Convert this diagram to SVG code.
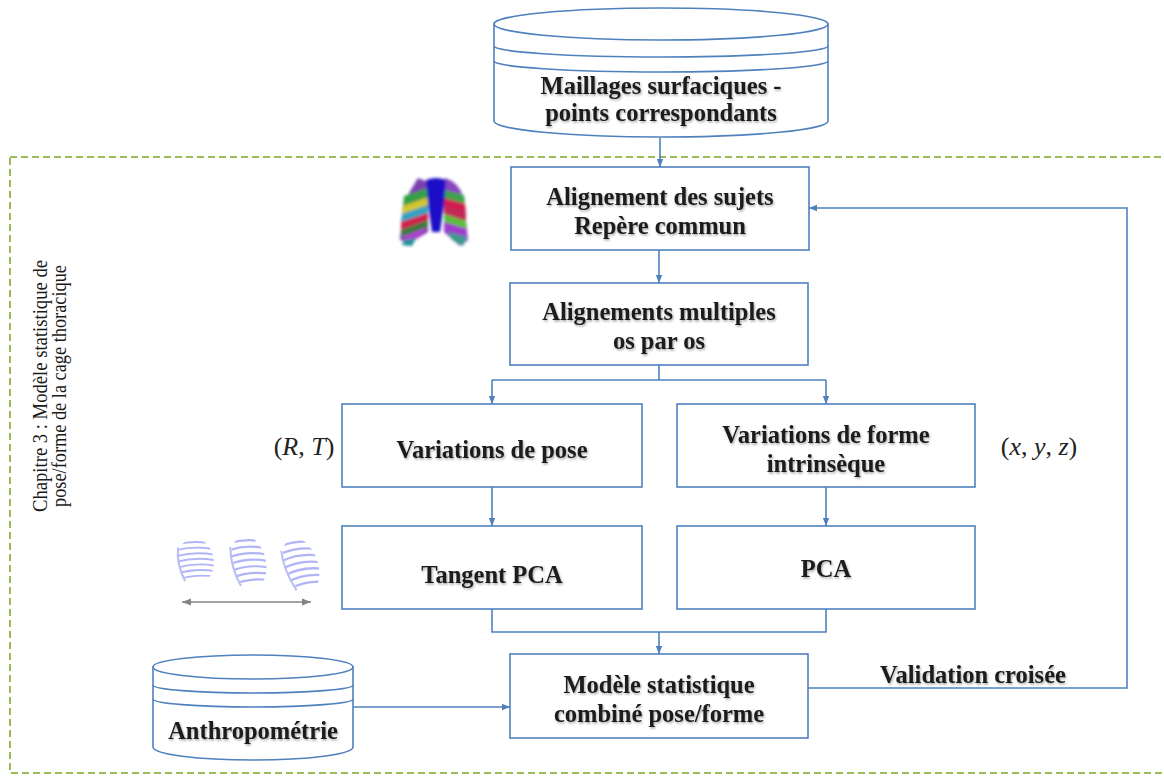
<svg xmlns="http://www.w3.org/2000/svg" width="1164" height="776" viewBox="0 0 1164 776">
  <defs>
    <style>
      .box { fill: #ffffff; stroke: #4f81bd; stroke-width: 1.6; }
      .cyl { fill: #ffffff; stroke: #4f81bd; stroke-width: 1.6; }
      .cylline { fill: none; stroke: #4f81bd; stroke-width: 1.6; }
      .conn { fill: none; stroke: #4f81bd; stroke-width: 1.6; }
      .lbl { font-family: "Liberation Serif", "Times New Roman", serif; font-weight: bold; font-size: 24.5px; fill: #1a1a1a; text-anchor: middle; filter: url(#ts); }
      .side { font-family: "Liberation Serif", "Times New Roman", serif; font-size: 20.5px; fill: #1a1a1a; text-anchor: middle; }
      .math { font-family: "Liberation Serif", "Times New Roman", serif; font-size: 26px; fill: #222222; text-anchor: middle; }
      .frame { fill: none; stroke: #9bbb59; stroke-width: 2; stroke-dasharray: 7 4; }
      .rib { fill: none; stroke: #a9aef4; stroke-width: 2; stroke-linecap: round; }
    </style>
    <filter id="ts" x="-5%" y="-30%" width="112%" height="170%">
      <feDropShadow dx="1" dy="1.5" stdDeviation="1" flood-color="#000000" flood-opacity="0.35"/>
    </filter>
    <filter id="soft" x="-20%" y="-20%" width="140%" height="140%">
      <feGaussianBlur stdDeviation="1.6"/>
    </filter>
    <filter id="soft2" x="-20%" y="-20%" width="140%" height="140%">
      <feGaussianBlur stdDeviation="0.6"/>
    </filter>
    <marker id="ah" viewBox="0 0 10 10" refX="10" refY="5" markerWidth="8" markerHeight="8" markerUnits="userSpaceOnUse" orient="auto">
      <path d="M0,1 L10,5 L0,9 z" fill="#4f81bd"/>
    </marker>
    <marker id="gh" viewBox="0 0 10 10" refX="10" refY="5" markerWidth="9" markerHeight="9" markerUnits="userSpaceOnUse" orient="auto-start-reverse">
      <path d="M0,1 L10,5 L0,9 z" fill="#777777"/>
    </marker>
    <clipPath id="ribclip">
      <ellipse cx="20" cy="25" rx="18" ry="24"/>
    </clipPath>
    <!-- lateral rib cage silhouette -->
    <g id="ribs">
      <g clip-path="url(#ribclip)">
        <path class="rib" d="M-2,5 Q20,2 42,11"/>
        <path class="rib" d="M-2,11 Q20,8 42,17"/>
        <path class="rib" d="M-2,17 Q20,14 42,23"/>
        <path class="rib" d="M-2,23 Q20,20 42,29"/>
        <path class="rib" d="M-2,29 Q20,26 42,35"/>
        <path class="rib" d="M-2,35 Q20,32 42,41"/>
        <path class="rib" d="M-2,41 Q20,38 42,47"/>
      </g>
      <path d="M5,8 Q0,25 6,44" fill="none" stroke="#b3b7f5" stroke-width="2.2"/>
    </g>
  </defs>

  <rect width="1164" height="776" fill="#ffffff"/>

  <!-- chapter frame -->
  <rect class="frame" x="10" y="157" width="1170" height="616"/>

  <g id="chapter-title">
    <text class="side" transform="translate(47,386) rotate(-90)" textLength="252" lengthAdjust="spacingAndGlyphs">Chapitre 3 : Modèle statistique de</text>
    <text class="side" transform="translate(66,386) rotate(-90)" textLength="242" lengthAdjust="spacingAndGlyphs">pose/forme de la cage thoracique</text>
  </g>

  <!-- connectors -->
  <g id="connectors">
    <path class="conn" d="M660,138 V167" marker-end="url(#ah)"/>
    <path class="conn" d="M659,250 V283" marker-end="url(#ah)"/>
    <path class="conn" d="M659,365 V380"/>
    <path class="conn" d="M492,380 H826"/>
    <path class="conn" d="M492,380 V404" marker-end="url(#ah)"/>
    <path class="conn" d="M826,380 V404" marker-end="url(#ah)"/>
    <path class="conn" d="M492,487 V526" marker-end="url(#ah)"/>
    <path class="conn" d="M826,487 V526" marker-end="url(#ah)"/>
    <path class="conn" d="M492,609 V632 H826 V609"/>
    <path class="conn" d="M659,632 V654" marker-end="url(#ah)"/>
    <path class="conn" d="M353,707 H510" marker-end="url(#ah)"/>
    <path class="conn" d="M808,688 H1127 V208 H809" marker-end="url(#ah)"/>
  </g>

  <!-- source meshes store -->
  <g id="meshes">
    <path class="cyl" d="M494,24 V121 A167,16 0 0 0 828,121 V24 Z"/>
    <ellipse class="cyl" cx="661" cy="24" rx="167" ry="16"/>
    <path class="cylline" d="M494,46 A167,11 0 0 0 828,46"/>
    <path class="cylline" d="M494,61 A167,11 0 0 0 828,61"/>
    <text class="lbl" x="661" y="94">Maillages surfaciques -</text>
    <text class="lbl" x="661" y="121">points correspondants</text>
  </g>

  <g id="align">
    <rect class="box" x="511" y="167" width="298" height="83"/>
    <text class="lbl" x="660" y="205">Alignement des sujets</text>
    <text class="lbl" x="660" y="234">Repère commun</text>
  </g>

  <g id="multi-align">
    <rect class="box" x="510" y="283" width="298" height="82"/>
    <text class="lbl" x="659" y="320">Alignements multiples</text>
    <text class="lbl" x="659" y="349">os par os</text>
  </g>

  <g id="pose">
    <rect class="box" x="342" y="404" width="300" height="83"/>
    <text class="lbl" x="492" y="458">Variations de pose</text>
  </g>

  <g id="shape">
    <rect class="box" x="677" y="404" width="298" height="83"/>
    <text class="lbl" x="826" y="443">Variations de forme</text>
    <text class="lbl" x="826" y="472">intrinsèque</text>
  </g>

  <g id="tangent-pca">
    <rect class="box" x="342" y="526" width="300" height="83"/>
    <text class="lbl" x="492" y="583">Tangent PCA</text>
  </g>

  <g id="pca">
    <rect class="box" x="677" y="526" width="298" height="83"/>
    <text class="lbl" x="826" y="577">PCA</text>
  </g>

  <g id="model">
    <rect class="box" x="510" y="654" width="298" height="84"/>
    <text class="lbl" x="659" y="693">Modèle statistique</text>
    <text class="lbl" x="659" y="722">combiné pose/forme</text>
  </g>

  <g id="anthropometry">
    <path class="cyl" d="M153,667 V747 A100,13 0 0 0 353,747 V667 Z"/>
    <ellipse class="cyl" cx="253" cy="667" rx="100" ry="12"/>
    <path class="cylline" d="M153,685 A100,8 0 0 0 353,685"/>
    <path class="cylline" d="M153,699 A100,8 0 0 0 353,699"/>
    <text class="lbl" x="253" y="739">Anthropométrie</text>
  </g>

  <g id="validation-label">
    <text class="lbl" x="973" y="683">Validation croisée</text>
  </g>

  <!-- parameter notations -->
  <g id="params">
    <text class="math" x="304" y="455">(<tspan font-style="italic">R</tspan>, <tspan font-style="italic">T</tspan>)</text>
    <text class="math" x="1039" y="455">(<tspan font-style="italic">x</tspan>, <tspan font-style="italic">y</tspan>, <tspan font-style="italic">z</tspan>)</text>
  </g>

  <!-- coloured thorax rendering -->
  <g id="thorax" filter="url(#soft)">
    <path d="M418,178 Q410,190 403,205 L400,240 L410,243 L428,232 L428,182 Z" fill="#7b3fb0"/>
    <path d="M404,196 L428,188 L428,197 L403,206 Z" fill="#35a045"/>
    <path d="M403,206 L428,197 L428,205 L402,214 Z" fill="#d2c82a"/>
    <path d="M402,214 L428,205 L428,213 L401,222 Z" fill="#2fa3c4"/>
    <path d="M401,222 L428,213 L428,220 L401,230 Z" fill="#d0204a"/>
    <path d="M401,230 L428,220 L428,227 L402,237 Z" fill="#3b7c3c"/>
    <path d="M402,237 L428,227 L420,236 L408,244 Z" fill="#b13ccf"/>
    <path d="M404,240 L416,238 L412,246 L402,245 Z" fill="#1e8f9a"/>
    <path d="M445,178 Q458,182 463,196 L468,240 L460,246 L444,232 L444,182 Z" fill="#8a45c0"/>
    <path d="M444,190 L464,195 L465,204 L444,198 Z" fill="#3aa34a"/>
    <path d="M444,198 L465,204 L466,213 L444,206 Z" fill="#d11b4e"/>
    <path d="M444,206 L466,213 L466,221 L444,214 Z" fill="#c02b55"/>
    <path d="M444,214 L466,221 L467,229 L444,222 Z" fill="#5cbf3a"/>
    <path d="M444,222 L467,229 L467,237 L446,230 Z" fill="#a23ad0"/>
    <path d="M448,232 L467,237 L463,246 L452,240 Z" fill="#3d9a8c"/>
    <path d="M426,180 Q436,176 446,180 L444,205 L440,232 L432,232 L428,205 Z" fill="#1c0fc6"/>
  </g>

  <!-- pose variation illustration -->
  <g id="pose-illustration" filter="url(#soft2)" opacity="0.9">
    <use href="#ribs" transform="translate(176,537) rotate(-10,20,25) scale(1.0,0.95)"/>
    <use href="#ribs" transform="translate(229,534) rotate(-14,20,25) scale(0.95,1.12)"/>
    <use href="#ribs" transform="translate(281,535) rotate(-20,20,25) scale(0.92,1.18)"/>
    <path d="M182,602 H311" fill="none" stroke="#777777" stroke-width="1.6" marker-start="url(#gh)" marker-end="url(#gh)"/>
  </g>
</svg>
